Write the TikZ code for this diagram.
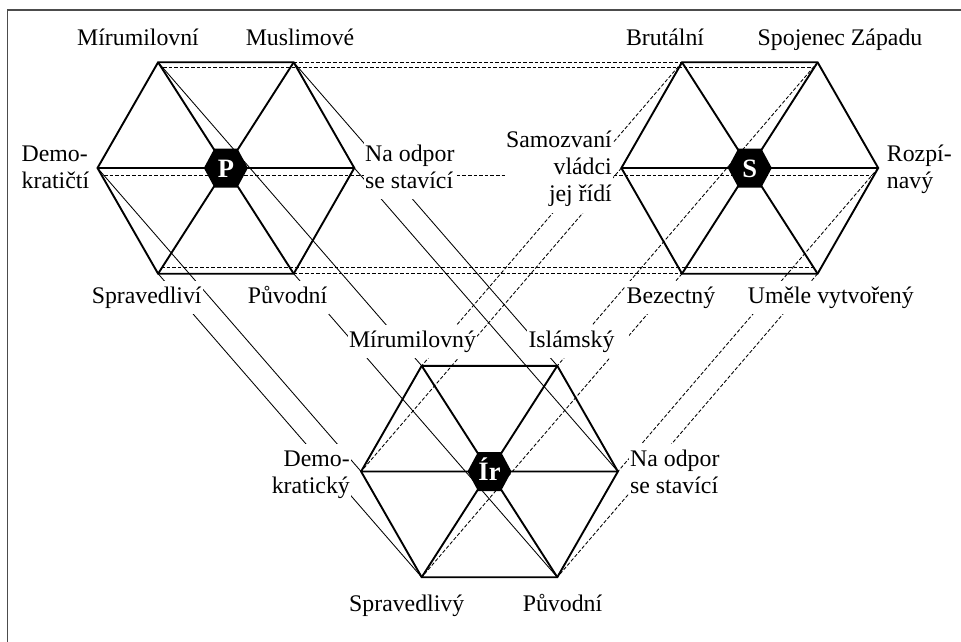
\documentclass[tikz,border=0pt]{standalone}
\usepackage{fontspec}
\setmainfont{Liberation Serif}
\usetikzlibrary{calc}

\newcommand\mkhex[3]{%
  \coordinate (#1) at (#2,#3);
  \coordinate (#1-tl) at ({#2-67.8},{#3-105.7});
  \coordinate (#1-tr) at ({#2+67.8},{#3-105.7});
  \coordinate (#1-l)  at ({#2-128.4},{#3});
  \coordinate (#1-r)  at ({#2+128.4},{#3});
  \coordinate (#1-bl) at ({#2-67.8},{#3+105.7});
  \coordinate (#1-br) at ({#2+67.8},{#3+105.7});
}
\newcommand\drawhex[2]{%
  \draw[hexline] (#1-tl) -- (#1-tr) -- (#1-r) -- (#1-br) -- (#1-bl) -- (#1-l) -- cycle;
  \draw[hexline] (#1-tl) -- (#1-br) (#1-tr) -- (#1-bl) (#1-l) -- (#1-r);
  \fill[shift={(#1)}] (-22,0) -- (-11.5,-19.5) -- (11.5,-19.5) -- (22,0) -- (11.5,19.5) -- (-11.5,19.5) -- cycle;
  \node[cen, anchor=base] (#1-name) at ($(#1)+(0,9.3)$) {#2};
}

\begin{document}
\begin{tikzpicture}[x=1pt,y=-1pt,
  hexline/.style={line width=1.9pt, line join=miter},
  thinline/.style={line width=0.85pt},
  dashline/.style={line width=0.85pt, dash pattern=on 3.6pt off 2pt},
  framel/.style={line width=1.5pt, draw=black!70},
  lbl/.style={fill=white, inner xsep=1.5pt, inner ysep=3pt, font=\fontsize{23.8}{27}\selectfont},
  cen/.style={text=white, inner sep=0pt, font=\fontsize{26.5}{30}\selectfont\bfseries}]
\useasboundingbox (0,0) rectangle (961,642);

% frame
\draw[framel] (7.3,642) -- (7.3,10) -- (961,10);

% hexagon coordinates
\mkhex{P}{225.9}{168}
\mkhex{S}{749.8}{168}
\mkhex{I}{489.5}{471.5}

% offset points for the P--S dashed links
\coordinate (P-tlx) at (163,67.5);
\coordinate (S-trx) at (813,67.5);
\coordinate (P-lx)  at (104,175);
\coordinate (S-rx)  at (872,175);
\coordinate (P-blx) at (161,267);
\coordinate (S-brx) at (813,267);

% P -- Ir links (thin solid)
\foreach \v in {tl,tr,l,r,bl,br}
  \draw[thinline] (P-\v) -- (I-\v);

% S -- Ir links (dashed)
\foreach \v in {tl,tr,l,r,bl,br}
  \draw[dashline] (S-\v) -- (I-\v);

% P -- S links (dashed)
\draw[dashline] (P-tr) -- (S-tl);
\draw[dashline] (P-tlx) -- (S-trx);
\draw[dashline] (P-lx) -- (S-rx);
\draw[dashline] (P-br) -- (S-bl);
\draw[dashline] (P-blx) -- (S-brx);

% hexagons
\drawhex{P}{P}
\drawhex{S}{S}
\drawhex{I}{Ír}

% labels of P
\node[lbl, anchor=base] (lPtl) at (138,45.5) {\strut Mírumilovní};
\node[lbl, anchor=base] (lPtr) at (300,45.5) {\strut Muslimové};
\node[lbl, anchor=west, align=left] (lPl) at (20,169.3) {\strut Demo-\\\strut kratičtí};
\node[lbl, anchor=west, align=left] (lPr) at (363.5,169.3) {\strut Na odpor\\\strut se stavící};
\node[lbl, anchor=base] (lPbl) at (146.7,303) {\strut Spravedliví};
\node[lbl, anchor=base] (lPbr) at (287.5,303) {\strut Původní};

% labels of S
\node[lbl, anchor=base] (lStl) at (665,45.5) {\strut Brutální};
\node[lbl, anchor=base] (lStr) at (840,45.5) {\strut Spojenec Západu};
\node[lbl, anchor=east, align=right] (lSl) at (613.5,169.3) {\strut Samozvaní\\\strut vládci\\\strut jej řídí};
\node[lbl, anchor=west, align=left] (lSr) at (885.2,169.3) {\strut Rozpí-\\\strut navý};
\node[lbl, anchor=base] (lSbl) at (671,303) {\strut Bezectný};
\node[lbl, anchor=base] (lSbr) at (830.8,303) {\strut Uměle vytvořený};

% labels of Ir
\node[lbl, anchor=base] (lItl) at (412.5,347) {\strut Mírumilovný};
\node[lbl, anchor=base west] (lItr) at (526.8,347) {\strut Islámský\hspace*{13pt}};
\node[lbl, anchor=east, align=right] (lIl) at (351.5,474.1) {\strut Demo-\\\strut kratický};
\node[lbl, anchor=west, align=left] (lIr) at (628.5,474.1) {\strut Na odpor\\\strut se stavící};
\node[lbl, anchor=base] (lIbl) at (406.7,611.5) {\strut Spravedlivý};
\node[lbl, anchor=base] (lIbr) at (562.5,611.5) {\strut Původní};
\end{tikzpicture}
\end{document}
